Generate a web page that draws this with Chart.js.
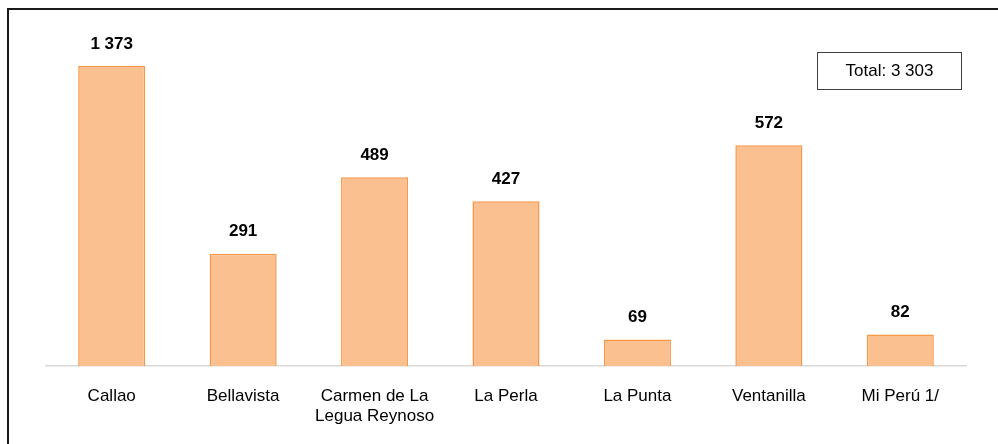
<!DOCTYPE html>
<html>
<head>
<meta charset="utf-8">
<script src="https://cdn.jsdelivr.net/npm/chart.js@4.4.1/dist/chart.umd.min.js"></script>
<style>
  html, body { margin: 0; padding: 0; background: #fff; overflow: hidden; }
  #wrap { position: relative; width: 998px; height: 444px; }
  #frame {
    position: absolute; left: 7px; top: 8px; width: 1000px; height: 450px;
    border: 2px solid #1a1a1a; box-sizing: border-box;
  }
  #chart { position: absolute; left: 0; top: 0; }
  #total {
    position: absolute; left: 817px; top: 52px; width: 145px; height: 38px;
    border: 1.5px solid #404040; box-sizing: border-box;
    font: 17px "Liberation Sans", Arial, sans-serif; color: #000;
    display: flex; align-items: center; justify-content: center;
  }
</style>
</head>
<body>
<div id="wrap">
  <div id="frame"></div>
  <canvas id="chart" width="998" height="444"></canvas>
  <div id="total">Total: 3 303</div>
</div>
<script>
// Datos
const distritos = ['Callao', 'Bellavista', ['Carmen de La', 'Legua Reynoso'], 'La Perla', 'La Punta', 'Ventanilla', 'Mi Perú 1/'];
const valores = [1373, 291, 489, 427, 69, 572, 82];

// Eje truncado: la barra de Callao se recorta en el tope
const ejeMax = 777;

const fuente = '"Liberation Sans", Arial, sans-serif';

function formatNum(n) {
    return String(n).replace(/\B(?=(\d{3})+(?!\d))/g, ' ');
}

/**
 * Recorta barras que superan el máximo del eje al borde superior
 */
const recorteBarras = {
    id: 'recorteBarras',
    beforeDatasetsDraw(chart) {
        const top = chart.chartArea.top;
        chart.getDatasetMeta(0).data.forEach(bar => {
            if (bar.y < top) bar.y = top;
        });
    }
};

/**
 * Etiquetas de valor encima de cada barra
 */
const etiquetasValor = {
    id: 'etiquetasValor',
    afterDatasetsDraw(chart) {
        const ctx = chart.ctx;
        ctx.save();
        ctx.font = 'bold 17px ' + fuente;
        ctx.fillStyle = '#000';
        ctx.textAlign = 'center';
        ctx.textBaseline = 'middle';
        chart.getDatasetMeta(0).data.forEach((bar, i) => {
            ctx.fillText(formatNum(valores[i]), bar.x, bar.y - 22);
        });
        ctx.restore();
    }
};

new Chart(document.getElementById('chart'), {
    type: 'bar',
    data: {
        labels: distritos,
        datasets: [{
            data: valores,
            backgroundColor: '#FAC090',
            borderColor: '#F79646',
            borderWidth: 1.5,
            borderSkipped: 'bottom',
            barPercentage: 0.51,
            categoryPercentage: 1
        }]
    },
    options: {
        responsive: false,
        animation: false,
        events: [],
        layout: { padding: { left: 46, right: 32, top: 66, bottom: 5 } },
        plugins: {
            legend: { display: false },
            tooltip: { enabled: false }
        },
        scales: {
            x: {
                grid: { display: false },
                border: { display: true, color: '#d9d9d9', width: 1.5 },
                ticks: {
                    color: '#000',
                    font: { family: fuente, size: 17 },
                    padding: 12,
                    maxRotation: 0,
                    autoSkip: false
                }
            },
            y: {
                display: false,
                min: 0,
                max: ejeMax
            }
        }
    },
    plugins: [recorteBarras, etiquetasValor]
});
</script>
</body>
</html>
